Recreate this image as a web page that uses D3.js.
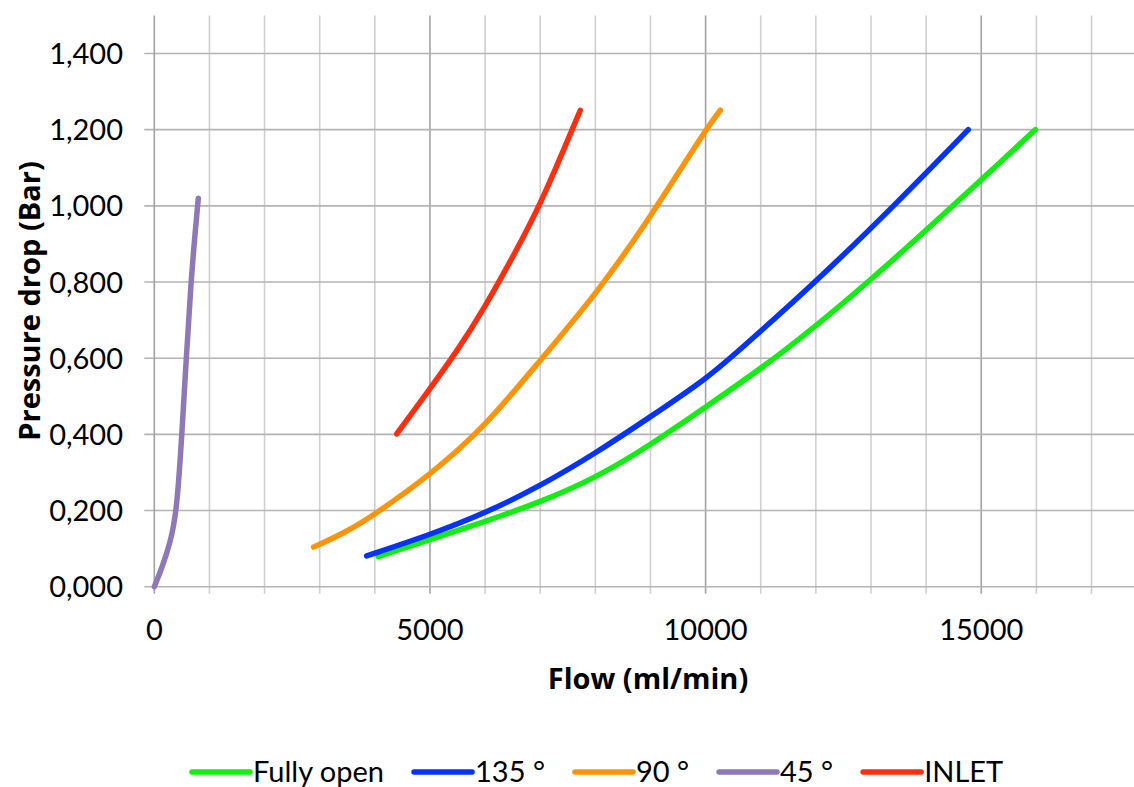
<!DOCTYPE html>
<html>
<head>
<meta charset="utf-8">
<script src="https://cdn.jsdelivr.net/npm/d3@7"></script>
<style>
  body { margin: 0; background: #fff; }
  text { font-family: Lato, "Open Sans", sans-serif; fill: #000; }
  .title { font-family: "Open Sans", Lato, sans-serif; font-weight: bold; }
</style>
</head>
<body>
<svg id="chart" width="1134" height="787"></svg>
<script>
// series data: [flow ml/min, pressure drop bar]
var fullyOpen = [[4063,0.079],[5000,0.124],[6000,0.171],[7000,0.222],[8000,0.285],[9000,0.372],[10000,0.472],[11290,0.600],[12969,0.800],[14480,1.000],[15000,1.068],[15980,1.200]];
var deg135 = [[3852,0.081],[5000,0.136],[6000,0.193],[7000,0.264],[8000,0.350],[9000,0.446],[10000,0.545],[10450,0.600],[12000,0.800],[13420,1.000],[14765,1.200]];
var deg90 = [[2890,0.104],[3500,0.145],[4000,0.190],[5000,0.293],[6000,0.420],[7000,0.595],[8000,0.765],[9000,0.970],[10000,1.200],[10267,1.251]];
var deg45 = [[0,0.000],[140,0.050],[290,0.115],[410,0.200],[500,0.400],[580,0.600],[665,0.800],[735,0.920],[798,1.020]];
var inlet = [[4397,0.401],[5000,0.520],[5500,0.620],[6000,0.735],[6500,0.865],[7000,1.000],[7727,1.251]];

var seriesNames = ["Fully open", "135 °", "90 °", "45 °", "INLET"];
var seriesData = [fullyOpen, deg135, deg90, deg45, inlet];
var seriesColors = ["#11ee11", "#0433ff", "#ff9408", "#8f78b8", "#ff2e0e"];

var xTickLabels = [0, 5000, 10000, 15000];
var yTicks = [0, 0.2, 0.4, 0.6, 0.8, 1.0, 1.2, 1.4];

window.onload = function() {
   drawChart();
};

function drawChart() {
   var svg = d3.select("#chart");
   var left = 154.3, bottom = 586.7, top = 15.4;

   var x = d3.scaleLinear().domain([0, 18000]).range([left, left + 18 * 55.13]);
   var y = d3.scaleLinear().domain([0, 1.5]).range([bottom, top]);

   var grid = svg.append("g");
   // vertical grid, every 1000, darker every 5000
   d3.range(1000, 18001, 1000).forEach(function(v) {
      grid.append("line")
         .attr("x1", x(v)).attr("x2", x(v))
         .attr("y1", top).attr("y2", bottom + 7)
         .attr("stroke", v % 5000 == 0 ? "#a3a3a3" : "#d0d0d0")
         .attr("stroke-width", 1.6);
   });
   // horizontal grid
   yTicks.forEach(function(v) {
      grid.append("line")
         .attr("x1", left - 10).attr("x2", 1134)
         .attr("y1", y(v)).attr("y2", y(v))
         .attr("stroke", "#b4b4b4")
         .attr("stroke-width", 1.6);
   });
   // y axis line
   grid.append("line")
      .attr("x1", left).attr("x2", left)
      .attr("y1", top).attr("y2", bottom + 7)
      .attr("stroke", "#a3a3a3")
      .attr("stroke-width", 1.6);

   // tick labels
   var fmt = function(v) { return d3.format(".3f")(v).replace(".", ","); };
   yTicks.forEach(function(v) {
      svg.append("text")
         .attr("x", 123).attr("y", y(v) + 10.5)
         .attr("text-anchor", "end")
         .attr("font-size", 29)
         .text(fmt(v));
   });
   xTickLabels.forEach(function(v) {
      svg.append("text")
         .attr("x", x(v)).attr("y", 640)
         .attr("text-anchor", "middle")
         .attr("font-size", 29)
         .text(v);
   });

   // axis titles
   svg.append("text")
      .attr("class", "title")
      .attr("x", 648).attr("y", 689)
      .attr("text-anchor", "middle")
      .attr("font-size", 29)
      .text("Flow (ml/min)");
   svg.append("text")
      .attr("class", "title")
      .attr("transform", "translate(40,301) rotate(-90)")
      .attr("text-anchor", "middle")
      .attr("font-size", 29)
      .text("Pressure drop (Bar)");

   // curves
   var line = d3.line()
      .x(function(d) { return x(d[0]); })
      .y(function(d) { return y(d[1]); })
      .curve(d3.curveBasis);

   seriesData.forEach(function(data, i) {
      svg.append("path")
         .datum(data)
         .attr("d", line)
         .attr("fill", "none")
         .attr("stroke", seriesColors[i])
         .attr("stroke-width", 5.5)
         .attr("stroke-linecap", "round")
         .attr("stroke-linejoin", "round");
   });

   // legend
   var legend = svg.append("g");
   var lx = 192, ly = 772;
   seriesNames.forEach(function(name, i) {
      legend.append("line")
         .attr("x1", lx).attr("x2", lx + 58)
         .attr("y1", ly).attr("y2", ly)
         .attr("stroke", seriesColors[i])
         .attr("stroke-width", 5.5)
         .attr("stroke-linecap", "round");
      var t = legend.append("text")
         .attr("x", lx + 61).attr("y", ly + 10)
         .attr("font-size", 29)
         .text(name);
      lx += 61 + t.node().getComputedTextLength() + 30;
   });
}
</script>
</body>
</html>
